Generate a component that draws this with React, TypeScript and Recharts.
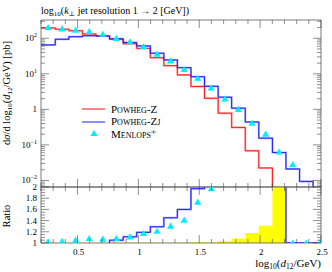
import { ComposedChart, Line, Area, Scatter, XAxis, YAxis } from "recharts";

// bin edges of log10(d12/GeV), read from the step positions
const binEdges = [0.2, 0.317, 0.429, 0.54, 0.652, 0.763, 0.875, 0.986, 1.098, 1.209, 1.32, 1.432, 1.543, 1.655, 1.766, 1.878, 1.989, 2.101, 2.212, 2.324, 2.435, 2.547];

// dsigma/dlog10(d12) [pb] per bin
const powhegZ = [195, 179, 163, 132, 116, 94, 70, 52, 28.5, 17, 9.3, 4.4, 2.05, 0.78, 0.31, 0.068, 0.0224];
const powhegZj = [65, 94, 111, 118, 116, 97, 76, 61, 38, 24.6, 14.9, 8.3, 4.45, 2.2, 1.08, 0.44, 0.155, 0.061, 0.021, 0.0094];
const menlops = [200, 183, 170, 153, 130, 100, 80, 58, 36, 23, 13.4, 7.5, 4.0, 1.97, 1.0, 0.41, 0.2, 0.063, 0.028];

// ratio panel (to Powheg-Z)
const ratioZj = [0.33, 0.53, 0.68, 0.89, 0.98, 1.05, 1.11, 1.19, 1.29, 1.45, 1.6, 1.97, 2.15, 2.8, 3.5, 6.5, 6.9, 10, 1, 1, 1];
const ratioMenlops = [1.02, 1.03, 1.05, 1.08, 1.07, 1.08, 1.11, 1.17, 1.21, 1.3, 1.41, 1.73, 1.97, 2.5, 3.2, 6, 9, 12, 1, 1, 1];
const statBand = [1.003, 1.003, 1.003, 1.003, 1.003, 1.003, 1.003, 1.003, 1.003, 1.003, 1.005, 1.01, 1.01, 1.03, 1.08, 1.18, 1.31, 2.5];

// axis ticks
const xTicks = [0.2, 0.3, 0.4, 0.5, 0.6, 0.7, 0.8, 0.9, 1, 1.1, 1.2, 1.3, 1.4, 1.5, 1.6, 1.7, 1.8, 1.9, 2, 2.1, 2.2, 2.3, 2.4, 2.5];
const xLabels = ["0.5", "1", "1.5", "2", "2.5"];
const mainYLabels = [
  { value: 100, base: "10", exp: "2" },
  { value: 10, base: "10", exp: "1" },
  { value: 1, base: "1", exp: "" },
  { value: 0.1, base: "10", exp: "−1" },
  { value: 0.01, base: "10", exp: "−2" },
];
const ratioLabels = ["1", "1.2", "1.4", "1.6", "1.8", "2"];

const FONT = "'Liberation Serif', 'DejaVu Serif', serif";
const FRAME = "#444";
const BELOW = 1e-5; // empty bin, drops below the axis
const LOG_DOMAIN = [0.00653, 327];

const logTicks: number[] = [];
[0.001, 0.01, 0.1, 1, 10, 100].forEach((d) => {
  for (let m = 1; m <= 9; m++) {
    const v = +(m * d).toPrecision(3);
    if (v >= LOG_DOMAIN[0] && v <= LOG_DOMAIN[1]) logTicks.push(v);
  }
});
const ratioTicks: number[] = [];
for (let i = 0; i <= 20; i++) ratioTicks.push(+(1 + i * 0.05).toFixed(2));

const mainRows = binEdges.map((x, k) => ({
  x,
  red: k < powhegZ.length ? powhegZ[k] : k === powhegZ.length ? BELOW : null,
  blue: k < powhegZj.length ? powhegZj[k] : k === powhegZj.length ? BELOW : null,
}));
const menlopsPts = menlops.map((y, k) => ({ x: (binEdges[k] + binEdges[k + 1]) / 2, y }));

const ratioRows = binEdges.map((x, k) => ({
  x,
  blue: k < ratioZj.length ? ratioZj[k] : ratioZj[ratioZj.length - 1],
  band: k < statBand.length ? statBand[k] : k === statBand.length ? 1 : null,
}));
const ratioPts = ratioMenlops.map((y, k) => ({ x: (binEdges[k] + binEdges[k + 1]) / 2, y }));

const isMajorX = (v: number) => Math.abs(v * 2 - Math.round(v * 2)) < 1e-6;

const tickUp = (p: any) => {
  const len = isMajorX(p.payload.value) ? 8 : 4;
  return <line x1={p.x} x2={p.x} y1={p.y} y2={p.y - len} stroke={FRAME} strokeWidth={0.6} />;
};
const tickDown = (p: any) => {
  const len = isMajorX(p.payload.value) ? 8 : 4;
  return <line x1={p.x} x2={p.x} y1={p.y} y2={p.y + len} stroke={FRAME} strokeWidth={0.6} />;
};
const tickUpLabel = (p: any) => {
  const v = p.payload.value;
  const lbl = xLabels.find((l) => Math.abs(+l - v) < 1e-6);
  const len = isMajorX(v) ? 8 : 4;
  return (
    <g>
      <line x1={p.x} x2={p.x} y1={p.y} y2={p.y - len} stroke={FRAME} strokeWidth={0.6} />
      {lbl && (
        <text x={p.x + 1} y={p.y + 12} textAnchor="middle" fontSize={9} fontFamily={FONT} fill="#000">
          {lbl}
        </text>
      )}
    </g>
  );
};

const logLeft = (p: any) => {
  const v = p.payload.value;
  const lbl = mainYLabels.find((l) => Math.abs(l.value - v) / v < 1e-6);
  const len = lbl ? 8 : 4;
  return (
    <g>
      <line x1={p.x} x2={p.x + len} y1={p.y} y2={p.y} stroke={FRAME} strokeWidth={0.6} />
      {lbl && (
        <text x={p.x - 4} y={p.y + 3} textAnchor="end" fontSize={9} fontFamily={FONT} fill="#000">
          {lbl.base}
          {lbl.exp && (
            <tspan dy={-4} fontSize={6}>
              {lbl.exp}
            </tspan>
          )}
        </text>
      )}
    </g>
  );
};
const logRight = (p: any) => {
  const v = p.payload.value;
  const major = mainYLabels.some((l) => Math.abs(l.value - v) / v < 1e-6);
  return <line x1={p.x} x2={p.x - (major ? 8 : 4)} y1={p.y} y2={p.y} stroke={FRAME} strokeWidth={0.6} />;
};

const isMajorR = (v: number) => Math.abs(v * 5 - Math.round(v * 5)) < 1e-6;
const ratioLeft = (p: any) => {
  const v = p.payload.value;
  const lbl = ratioLabels.find((l) => Math.abs(+l - v) < 1e-6);
  const len = isMajorR(v) ? 8 : 4;
  return (
    <g>
      <line x1={p.x} x2={p.x + len} y1={p.y} y2={p.y} stroke={FRAME} strokeWidth={0.6} />
      {lbl && (
        <text x={p.x - 4} y={p.y + 3} textAnchor="end" fontSize={9} fontFamily={FONT} fill="#000">
          {lbl}
        </text>
      )}
    </g>
  );
};
const ratioRight = (p: any) => {
  const len = isMajorR(p.payload.value) ? 8 : 4;
  return <line x1={p.x} x2={p.x - len} y1={p.y} y2={p.y} stroke={FRAME} strokeWidth={0.6} />;
};

const triangle = (p: any) => {
  const { cx, cy } = p;
  if (cx == null || cy == null) return <g />;
  return <polygon points={`${cx},${cy - 3.6} ${cx - 3.6},${cy + 2.6} ${cx + 3.6},${cy + 2.6}`} fill="#00eeff" />;
};

const axisLine = { stroke: FRAME, strokeWidth: 0.7 };
const xDomain = [0.2, 2.5];

function MainPanel() {
  return (
    <ComposedChart width={332} height={272} data={mainRows} margin={{ top: 19, right: 10, bottom: 84, left: 0 }}>
      <XAxis dataKey="x" type="number" domain={xDomain} ticks={xTicks} interval={0} height={1} tickSize={0} tickMargin={0} tickLine={false} axisLine={axisLine} tick={tickUp} allowDataOverflow />
      <XAxis xAxisId="top" orientation="top" dataKey="x" type="number" domain={xDomain} ticks={xTicks} interval={0} height={1} tickSize={0} tickMargin={0} tickLine={false} axisLine={axisLine} tick={tickDown} allowDataOverflow />
      <YAxis scale="log" domain={LOG_DOMAIN} ticks={logTicks} interval={0} width={41} tickSize={0} tickMargin={0} tickLine={false} axisLine={axisLine} tick={logLeft} allowDataOverflow />
      <YAxis yAxisId="right" orientation="right" scale="log" domain={LOG_DOMAIN} ticks={logTicks} interval={0} width={1} tickSize={0} tickMargin={0} tickLine={false} axisLine={axisLine} tick={logRight} allowDataOverflow />
      <Line dataKey="red" type="stepAfter" stroke="#ffa8a8" strokeWidth={2} dot={false} activeDot={false} isAnimationActive={false} />
      <Line dataKey="blue" type="stepAfter" stroke="#a8a8ff" strokeWidth={2} dot={false} activeDot={false} isAnimationActive={false} />
      <Line dataKey="red" type="stepAfter" stroke="#ff1010" strokeWidth={0.9} dot={false} activeDot={false} isAnimationActive={false} />
      <Line dataKey="blue" type="stepAfter" stroke="#1010ff" strokeWidth={0.9} dot={false} activeDot={false} isAnimationActive={false} />
      <Scatter data={menlopsPts} dataKey="y" shape={triangle} isAnimationActive={false} />
    </ComposedChart>
  );
}

function RatioPanel() {
  return (
    <ComposedChart width={332} height={272} data={ratioRows} margin={{ top: 186, right: 10, bottom: 28, left: 0 }}>
      <XAxis dataKey="x" type="number" domain={xDomain} ticks={xTicks} interval={0} height={1} tickSize={0} tickMargin={0} tickLine={false} axisLine={axisLine} tick={tickUpLabel} allowDataOverflow />
      <XAxis xAxisId="top" orientation="top" dataKey="x" type="number" domain={xDomain} ticks={xTicks} interval={0} height={1} tickSize={0} tickMargin={0} tickLine={false} axisLine={axisLine} tick={tickDown} allowDataOverflow />
      <YAxis domain={[1, 2]} ticks={ratioTicks} interval={0} width={41} tickSize={0} tickMargin={0} tickLine={false} axisLine={axisLine} tick={ratioLeft} allowDataOverflow />
      <YAxis yAxisId="right" orientation="right" domain={[1, 2]} ticks={ratioTicks} interval={0} width={1} tickSize={0} tickMargin={0} tickLine={false} axisLine={axisLine} tick={ratioRight} allowDataOverflow />
      <Area dataKey="band" type="stepAfter" baseValue={1} fill="#ffff00" fillOpacity={1} stroke="none" dot={false} activeDot={false} isAnimationActive={false} />
      <Line dataKey="blue" type="stepAfter" stroke="#a8a8ff" strokeWidth={2} dot={false} activeDot={false} isAnimationActive={false} />
      <Line dataKey="blue" type="stepAfter" stroke="#1010ff" strokeWidth={0.9} dot={false} activeDot={false} isAnimationActive={false} />
      <Scatter data={ratioPts} dataKey="y" shape={triangle} isAnimationActive={false} />
    </ComposedChart>
  );
}

function Labels() {
  const t = { fontFamily: FONT, fill: "#000" };
  return (
    <svg width={332} height={272} style={{ position: "absolute", left: 0, top: 0, pointerEvents: "none" }}>
      <text x={41} y={14} fontSize={10} {...t}>
        log<tspan dy={2} fontSize={7}>10</tspan>
        <tspan dy={-2}>(</tspan>
        <tspan fontStyle="italic">k</tspan>
        <tspan dy={2} fontSize={7}>⊥</tspan>
        <tspan dy={-2}> jet resolution 1 → 2 [GeV])</tspan>
      </text>
      <text transform="translate(10,93) rotate(-90)" textAnchor="middle" fontSize={10.5} {...t}>
        d<tspan fontStyle="italic">σ</tspan>/d log<tspan dy={2} fontSize={7}>10</tspan>
        <tspan dy={-2}>(</tspan>
        <tspan fontStyle="italic">d</tspan>
        <tspan dy={2} fontSize={7}>12</tspan>
        <tspan dy={-2}>/GeV) [pb]</tspan>
      </text>
      <text transform="translate(10,216) rotate(-90)" textAnchor="middle" fontSize={10.5} {...t}>
        Ratio
      </text>
      <text x={321} y={267} textAnchor="end" fontSize={11} {...t}>
        log<tspan dy={2} fontSize={7.5}>10</tspan>
        <tspan dy={-2}>(</tspan>
        <tspan fontStyle="italic">d</tspan>
        <tspan dy={2} fontSize={7.5}>12</tspan>
        <tspan dy={-2}>/GeV)</tspan>
      </text>
      <line x1={82} x2={105} y1={109} y2={109} stroke="#ff2020" strokeWidth={1.1} />
      <text x={111} y={112.5} fontSize={11} style={{ fontVariant: "small-caps" }} {...t}>Powheg-Z</text>
      <line x1={82} x2={105} y1={122} y2={122} stroke="#3030ff" strokeWidth={1.1} />
      <text x={111} y={125} fontSize={11} style={{ fontVariant: "small-caps" }} {...t}>Powheg-Zj</text>
      <polygon points="94,129.7 90.4,135.9 97.6,135.9" fill="#00eeff" />
      <text x={111} y={137.5} fontSize={11} {...t}>
        <tspan style={{ fontVariant: "small-caps" }}>Menlops</tspan>
        <tspan dy={-4} fontSize={7}>∞</tspan>
      </text>
    </svg>
  );
}

export default function App() {
  return (
    <div style={{ position: "absolute", left: 0, top: 0, width: 332, height: 272, background: "#fff" }}>
      <div style={{ position: "absolute", left: 0, top: 0 }}>
        <MainPanel />
      </div>
      <div style={{ position: "absolute", left: 0, top: 0 }}>
        <RatioPanel />
      </div>
      <Labels />
    </div>
  );
}
